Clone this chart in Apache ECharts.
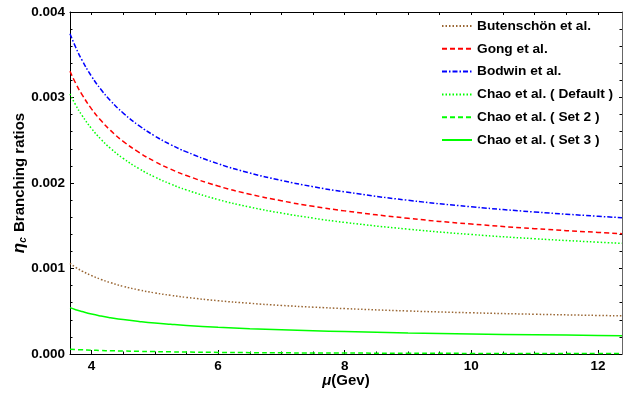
<!DOCTYPE html>
<html>
<head>
<meta charset="utf-8">
<script src="https://cdn.jsdelivr.net/npm/echarts@6/dist/echarts.min.js"></script>
<style>
  html, body { margin: 0; padding: 0; background: #fff; }
  #chart { width: 628px; height: 396px; }
</style>
</head>
<body>
<div id="chart"></div>
<script>
// scale mu (GeV) and branching ratios
const mu = [3.66, 3.75, 3.85, 4, 4.15, 4.3, 4.5, 4.75, 5, 5.25, 5.5, 6, 6.5, 7, 7.5, 8, 9, 10, 11, 12, 12.38];
const butenschoen = [0.00106, 0.001013, 0.00097, 0.000917, 0.000872, 0.000834, 0.000791, 0.000749, 0.000714, 0.000686, 0.000662, 0.000623, 0.000593, 0.000568, 0.000548, 0.000531, 0.000503, 0.000482, 0.000465, 0.000451, 0.000446];
const gong = [0.003307, 0.003166, 0.003034, 0.002867, 0.00273, 0.002615, 0.002487, 0.002358, 0.002251, 0.002162, 0.002087, 0.001964, 0.001869, 0.001792, 0.001727, 0.001674, 0.001587, 0.00152, 0.001466, 0.001422, 0.001407];
const bodwin = [0.003746, 0.003587, 0.003437, 0.003248, 0.003093, 0.002963, 0.002818, 0.002671, 0.00255, 0.002449, 0.002364, 0.002225, 0.002117, 0.00203, 0.001957, 0.001896, 0.001798, 0.001722, 0.001661, 0.001611, 0.001594];
const chaoDefault = [0.003041, 0.002912, 0.00279, 0.002637, 0.002511, 0.002405, 0.002288, 0.002168, 0.00207, 0.001988, 0.001919, 0.001806, 0.001719, 0.001648, 0.001589, 0.001539, 0.00146, 0.001398, 0.001348, 0.001308, 0.001294];
const chaoSet2 = [0.000055, 0.000052, 0.000049, 0.000045, 0.000041, 0.000038, 0.000035, 0.000031, 0.000028, 0.000025, 0.000023, 0.000019, 0.000016, 0.000014, 0.000012, 0.000011, 0.000009, 0.000007, 0.000006, 0.000005, 0.000005];
const chaoSet3 = [0.000542, 0.000518, 0.000496, 0.000467, 0.000444, 0.000425, 0.000403, 0.000381, 0.000362, 0.000347, 0.000334, 0.000313, 0.000296, 0.000283, 0.000271, 0.000262, 0.000246, 0.000234, 0.000225, 0.000217, 0.000214];

const xLabels = [4, 6, 8, 10, 12];
const xMinor = [4, 4.5, 5, 5.5, 6, 6.5, 7, 7.5, 8, 8.5, 9, 9.5, 10, 10.5, 11, 11.5, 12];

const FONT = "'Liberation Sans', Arial, sans-serif";
const xMin = 3.66, xMax = 12.38;

const pairs = ys => mu.map((x, i) => [x, ys[i]]);

const curves = [
  { name: 'Butenschön et al.', data: butenschoen, color: '#996633', type: [1.5, 2] },
  { name: 'Gong et al.', data: gong, color: '#ff0000', type: [5, 3] },
  { name: 'Bodwin et al.', data: bodwin, color: '#0000ff', type: [5, 2, 1.5, 2] },
  { name: 'Chao et al. ( Default )', data: chaoDefault, color: '#00ff00', type: [1.5, 2] },
  { name: 'Chao et al. ( Set 2 )', data: chaoSet2, color: '#00ff00', type: [5, 3] },
  { name: 'Chao et al. ( Set 3 )', data: chaoSet3, color: '#00ff00', type: 'solid' },
];

const chart = echarts.init(document.getElementById('chart'));

const option = {
  animation: false,
  backgroundColor: '#fff',
  textStyle: { fontFamily: FONT },
  grid: { left: 70, right: 6, top: 12, bottom: 42, outerBoundsMode: 'none' },
  legend: {
    orient: 'vertical',
    left: 436,
    top: 14,
    itemWidth: 30,
    itemHeight: 14,
    itemGap: 8.8,
    itemStyle: { opacity: 0 },
    textStyle: { fontFamily: FONT, fontWeight: 'bold', fontSize: 13.7, color: '#000' },
    data: curves.map(c => c.name),
  },
  xAxis: [
    {
      type: 'value', min: xMin, max: xMax, position: 'bottom',
      name: '{mu|μ}(Gev)', nameLocation: 'middle', nameGap: 19, nameMoveOverlap: false,
      nameTextStyle: {
        fontFamily: FONT, fontWeight: 'bold', fontSize: 15, color: '#000',
        rich: { mu: { fontFamily: FONT, fontWeight: 'bold', fontStyle: 'italic', fontSize: 15, color: '#000' } },
      },
      axisLine: { show: true, lineStyle: { color: '#000', width: 1 } },
      axisTick: { show: true, inside: true, length: 4, customValues: xLabels, lineStyle: { color: '#000' } },
      axisLabel: { show: true, customValues: xLabels, margin: 5, fontFamily: FONT, fontWeight: 'bold', fontSize: 13.5, color: '#000' },
      splitLine: { show: false },
    },
    {
      type: 'value', min: xMin, max: xMax, position: 'bottom',
      axisLine: { show: false },
      axisTick: { show: true, inside: true, length: 2.5, customValues: xMinor, lineStyle: { color: '#000' } },
      axisLabel: { show: false },
      splitLine: { show: false },
    },
    {
      type: 'value', min: xMin, max: xMax, position: 'top',
      axisLine: { show: true, lineStyle: { color: '#000', width: 1 } },
      axisTick: { show: true, inside: true, length: 3, customValues: xMinor, lineStyle: { color: '#000' } },
      axisLabel: { show: false },
      splitLine: { show: false },
    },
  ],
  yAxis: [
    {
      type: 'value', min: 0, max: 0.004, interval: 0.001, position: 'left',
      name: '{eta|η}{sub|c} Branching ratios', nameLocation: 'middle', nameGap: 42, nameMoveOverlap: false,
      nameTextStyle: {
        fontFamily: FONT, fontWeight: 'bold', fontSize: 15, color: '#000',
        rich: {
          eta: { fontFamily: FONT, fontWeight: 'bold', fontStyle: 'italic', fontSize: 17, color: '#000' },
          sub: { fontFamily: FONT, fontWeight: 'bold', fontStyle: 'italic', fontSize: 10, color: '#000', verticalAlign: 'bottom', padding: [7, 1, 0, 0] },
        },
      },
      axisLine: { show: true, lineStyle: { color: '#000', width: 1 } },
      axisTick: { show: true, inside: true, length: 4, lineStyle: { color: '#000' } },
      minorTick: { show: true, splitNumber: 5, length: 2.5, lineStyle: { color: '#000' } },
      axisLabel: { margin: 5, fontFamily: FONT, fontWeight: 'bold', fontSize: 13.5, color: '#000', formatter: v => v.toFixed(3) },
      splitLine: { show: false },
      minorSplitLine: { show: false },
    },
    {
      type: 'value', min: 0, max: 0.004, interval: 0.001, position: 'right',
      axisLine: { show: true, lineStyle: { color: '#666', width: 1 } },
      axisTick: { show: true, inside: true, length: 3, lineStyle: { color: '#000' } },
      minorTick: { show: true, splitNumber: 5, length: 2.5, lineStyle: { color: '#000' } },
      axisLabel: { show: false },
      splitLine: { show: false },
      minorSplitLine: { show: false },
    },
  ],
  series: curves.map(c => ({
    name: c.name,
    type: 'line',
    xAxisIndex: 0,
    yAxisIndex: 0,
    data: pairs(c.data),
    smooth: true,
    symbol: 'none',
    clip: true,
    color: c.color,
    lineStyle: { color: c.color, width: 1.5, type: c.type },
  })),
};

chart.setOption(option);
</script>
</body>
</html>
